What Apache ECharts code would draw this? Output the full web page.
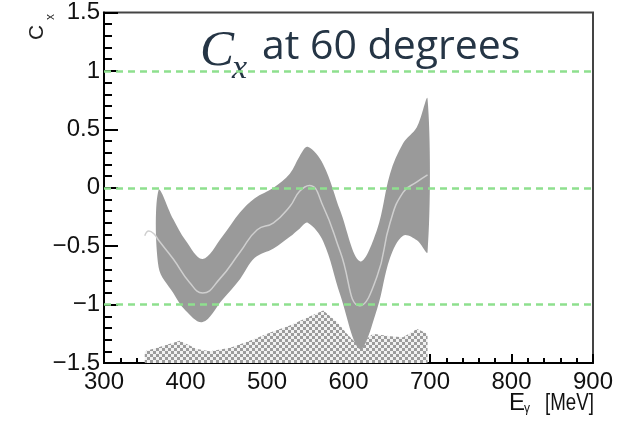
<!DOCTYPE html>
<html><head><meta charset="utf-8">
<script src="https://cdn.jsdelivr.net/npm/echarts@6/dist/echarts.min.js"></script>
<style>html,body{margin:0;padding:0;background:#fff}#c{width:629px;height:421px}</style>
</head><body><div id="c"></div>
<script>
// Band (uncertainty) of C_x vs photon energy
const bandE     = [367, 385, 400, 421, 445, 467, 485, 508, 528, 540, 550, 569, 590, 614, 635, 651, 667, 684, 697];
const bandUpper = [-0.02,-0.27,-0.45,-0.61,-0.42,-0.21,-0.09, 0.00, 0.12, 0.27, 0.35, 0.20,-0.20,-0.63,-0.36, 0.12, 0.38, 0.52, 0.76];
const bandLower = [-0.68,-0.90,-1.05,-1.15,-0.96,-0.78,-0.60,-0.52,-0.42,-0.35,-0.30,-0.46,-0.92,-1.38,-1.04,-0.60,-0.41,-0.45,-0.55];
// Central curve
const centralE  = [350, 355, 362, 367, 385, 405, 421, 442, 467, 488, 508, 528, 540, 552, 569, 590, 614, 635, 651, 667, 684, 697];
const centralCx = [-0.41,-0.37,-0.40,-0.45,-0.61,-0.81,-0.90,-0.78,-0.55,-0.36,-0.30,-0.16,-0.03, 0.02,-0.16,-0.55,-1.01,-0.76,-0.30,-0.04, 0.05, 0.11];
// Systematic (hatched) histogram top edge
const systE   = [350, 369, 393, 414, 430, 455, 479, 504, 528, 553, 569, 586, 598, 612, 630, 651, 667, 684, 694, 697];
const systTop = [-1.40,-1.36,-1.31,-1.38,-1.40,-1.37,-1.31,-1.24,-1.18,-1.10,-1.05,-1.15,-1.25,-1.35,-1.25,-1.27,-1.28,-1.21,-1.24,-1.26];
// Reference dashed lines
const refLines = [1, 0, -1];

const pair = (xs, ys) => xs.map((x, i) => [x, ys[i]]);

// hatch pattern
const pc = document.createElement('canvas');
pc.width = 6; pc.height = 6;
const g = pc.getContext('2d');
g.fillStyle = '#f2f2f2'; g.fillRect(0, 0, 6, 6);
g.fillStyle = '#9c9c9c'; g.fillRect(0, 0, 3, 3); g.fillRect(3, 3, 3, 3);

const bandData = bandE.map((e, i) => [e, bandUpper[i], bandLower[i]]);

const chart = echarts.init(document.getElementById('c'), null, {renderer: 'canvas'});
const labelFont = {color: '#111', fontSize: 24, fontFamily: 'Liberation Sans'};
chart.setOption({
  animation: false,
  grid: {left: 104, right: 36, top: 12.5, bottom: 58, show: true, borderColor: '#444', borderWidth: 2},
  xAxis: {
    type: 'value', min: 300, max: 900, interval: 100,
    axisLine: {onZero: false, lineStyle: {color: '#000', width: 2}},
    axisTick: {inside: true, length: 9, lineStyle: {color: '#000', width: 2}},
    minorTick: {show: true, splitNumber: 5, length: 5, lineStyle: {color: '#000', width: 2}},
    splitLine: {show: false},
    axisLabel: Object.assign({margin: 7}, labelFont)
  },
  yAxis: {
    type: 'value', min: -1.5, max: 1.5, interval: 0.5,
    axisLine: {onZero: false, lineStyle: {color: '#000', width: 2}},
    axisTick: {inside: true, length: 14, lineStyle: {color: '#000', width: 2}},
    minorTick: {show: true, splitNumber: 5, length: 8, lineStyle: {color: '#000', width: 2}},
    splitLine: {show: false},
    axisLabel: Object.assign({margin: 4, formatter: v => String(v).replace('-', '\u2212')}, labelFont)
  },
  series: [
    {
      type: 'line', data: pair(systE, systTop), symbol: 'none', z: 1,
      lineStyle: {width: 0},
      areaStyle: {origin: 'start', color: {image: pc, repeat: 'repeat'}, opacity: 1}
    },
    {
      type: 'custom', z: 3, data: bandData,
      renderItem: function (params, api) {
        if (params.dataIndex !== 0) return null;
        const up = bandData.map(d => api.coord([d[0], d[1]]));
        const lo = bandData.map(d => api.coord([d[0], d[2]])).reverse();
        return {
          type: 'polygon',
          shape: {points: up.concat(lo), smooth: 0.35},
          style: {fill: '#9a9a9a', stroke: null}
        };
      }
    },
    {
      type: 'line', data: pair(centralE, centralCx), symbol: 'none', smooth: 0.5, z: 4,
      lineStyle: {color: '#cfcfcf', width: 1.5}
    },
    {
      type: 'line', data: [], z: 5,
      markLine: {
        silent: true, symbol: 'none', label: {show: false},
        lineStyle: {color: '#8ee08e', type: [7, 5], width: 2.5},
        data: refLines.map(v => ({yAxis: v}))
      }
    }
  ],
  graphic: [
    {type: 'text', left: 200, top: 26, style: {text: 'C', font: 'italic 51px "Liberation Serif"', fill: '#253545'}},
    {type: 'text', left: 232, top: 52, style: {text: 'x', font: 'italic 34px "Liberation Serif"', fill: '#253545'}},
    {type: 'text', left: 262, top: 27, style: {text: 'at 60 degrees', font: '41px "Open Sans"', fill: '#253545'}},
    {type: 'text', x: 27, y: 40, rotation: Math.PI / 2, style: {text: 'C', font: '21px "Liberation Sans"', fill: '#222'}},
    {type: 'text', x: 45, y: 20, rotation: Math.PI / 2, style: {text: 'x', font: '12px "Liberation Sans"', fill: '#222'}},
    {type: 'text', left: 509, top: 391, style: {text: 'E', font: '24px "Liberation Sans"', fill: '#111'}},
    {type: 'text', left: 524, top: 403, style: {text: 'γ', font: '12px "Liberation Sans"', fill: '#111'}},
    {type: 'text', x: 545, y: 391, scaleX: 0.78, style: {text: '[MeV]', font: '24px "Liberation Sans"', fill: '#111'}}
  ]
});
</script></body></html>
